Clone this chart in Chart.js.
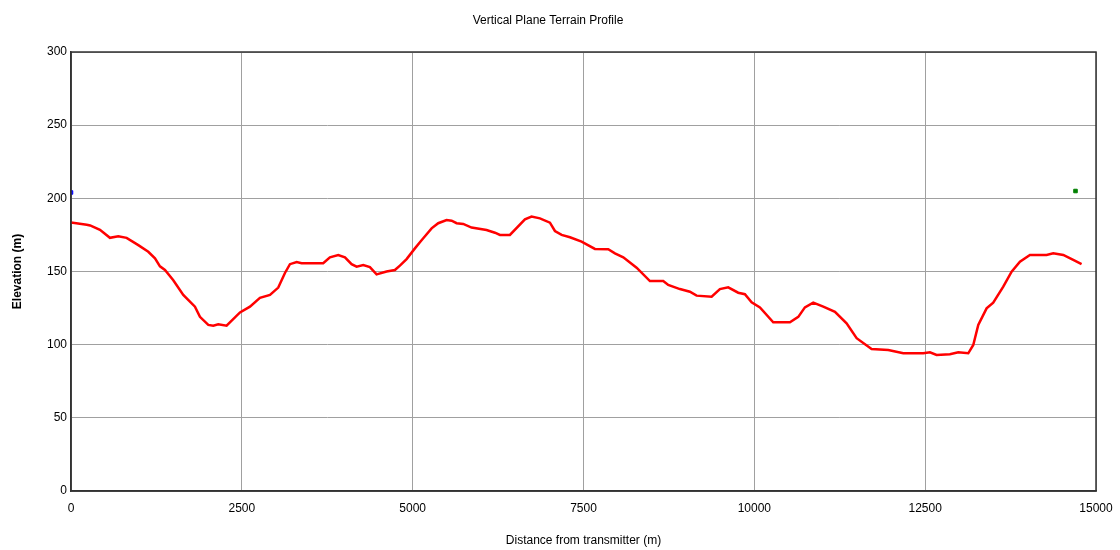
<!DOCTYPE html>
<html>
<head>
<meta charset="utf-8">
<script src="https://cdn.jsdelivr.net/npm/chart.js@4/dist/chart.umd.min.js"></script>
<style>
  html, body { margin: 0; padding: 0; background: #fff; }
  #wrap { width: 1120px; height: 550px; }
</style>
</head>
<body>
<div id="wrap"><canvas id="profile" width="1120" height="550"></canvas></div>
<script>
// Terrain profile
const distances = [0, 230, 280, 424, 570, 692, 814, 985, 1131, 1229, 1302, 1375, 1497, 1643, 1814, 1887,
  2009, 2082, 2155, 2277, 2473, 2619, 2765, 2912, 3033, 3131, 3204, 3302, 3375, 3691, 3789, 3911,
  4009, 4106, 4180, 4277, 4374, 4472, 4618, 4740, 4813, 4911, 5033, 5106, 5155, 5277, 5374, 5496,
  5570, 5643, 5740, 5862, 6081, 6204, 6277, 6423, 6643, 6740, 6862, 7009, 7082, 7180, 7302, 7472,
  7667, 7862, 7960, 8082, 8277, 8472, 8667, 8740, 8911, 9057, 9155, 9375, 9496, 9618, 9764, 9862,
  9960, 10082, 10277, 10521, 10643, 10740, 10862, 11009, 11180, 11350, 11497, 11716, 11960, 12180,
  12472, 12570, 12667, 12862, 12984, 13131, 13204, 13277, 13399, 13496, 13643, 13765, 13887, 14033,
  14277, 14374, 14521, 14667, 14789];
const elevations = [183.5, 182, 181.5, 178.5, 173, 174, 173, 168, 163.5, 159, 153.5, 151, 144, 134, 126, 119,
  113.5, 113, 114, 113, 122, 126, 132, 134, 139, 149, 155, 156.5, 155.6, 155.6, 159.7, 161.3,
  159.7, 155, 153.3, 154.4, 153, 148, 150, 151, 154, 158.5, 165.8, 170, 172.7, 179.5, 183, 185.2,
  184.7, 183, 182.5, 180, 178.4, 176.5, 175, 175, 185.6, 187.5, 186.3, 183.4, 177.7, 175, 173.4, 170.4,
  165.4, 165.2, 162.4, 159.7, 152.6, 143.5, 143.5, 140.8, 138, 136.2, 133.5, 132.8, 138, 139.2, 135.5, 134.5,
  129, 125.5, 115.3, 115.3, 119, 125.5, 128.7, 126, 122.5, 114.6, 104.4, 97, 96.4, 94.1,
  94.1, 94.8, 93, 93.4, 94.8, 94.1, 99.8, 113.4, 124.8, 128.7, 139.6, 149.9, 156.7, 161.3,
  161.3, 162.4, 161.3, 157.9, 155];

// antenna positions
const txPoint = [{ x: 0, y: 204 }];
const rxPoint = [{ x: 14700, y: 205 }];

const terrain = distances.map((d, i) => ({ x: d, y: elevations[i] }));

const FONT = "'Liberation Sans', Arial, sans-serif";

// dark frame round the plot area
const framePlugin = {
    id: 'frame',
    afterDatasetsDraw(chart) {
        const { ctx, chartArea: a } = chart;
        ctx.save();
        ctx.strokeStyle = '#333';
        ctx.lineWidth = 1.5;
        ctx.strokeRect(a.left, a.top, a.right - a.left, a.bottom - a.top);
        ctx.restore();
    }
};

new Chart(document.getElementById('profile').getContext('2d'), {
    type: 'line',
    data: {
        datasets: [
            {
                label: 'Terrain',
                data: terrain,
                borderColor: '#ff0000',
                borderWidth: 2.5,
                pointRadius: 0,
                tension: 0,
                fill: false
            },
            {
                label: 'Transmitter',
                data: txPoint,
                showLine: false,
                pointStyle: 'rect',
                pointRadius: 2.5,
                backgroundColor: '#0000ff',
                borderColor: '#0000ff'
            },
            {
                label: 'Receiver',
                data: rxPoint,
                showLine: false,
                pointStyle: 'rect',
                pointRadius: 2.5,
                backgroundColor: '#008000',
                borderColor: '#008000'
            }
        ]
    },
    options: {
        responsive: false,
        animation: false,
        layout: { padding: { top: 0, right: 24, bottom: 0, left: 0 } },
        plugins: {
            legend: { display: false },
            tooltip: { enabled: false },
            title: {
                display: true,
                text: 'Vertical Plane Terrain Profile',
                color: '#000',
                font: { family: FONT, size: 12, weight: 'normal' },
                padding: { top: 13, bottom: 24.6 }
            }
        },
        scales: {
            x: {
                type: 'linear',
                min: 0,
                max: 15000,
                ticks: {
                    stepSize: 2500, color: '#000', font: { family: FONT, size: 12 }, padding: 10, maxRotation: 0,
                    callback: (v) => String(v)
                },
                grid: { color: '#a0a0a0', lineWidth: 1, drawTicks: false },
                border: { color: '#333', width: 1.5 },
                title: {
                    display: true,
                    text: 'Distance from transmitter (m)',
                    color: '#000',
                    font: { family: FONT, size: 12 },
                    padding: { top: 0, bottom: 2 }
                },
                afterFit(scale) {
                    scale.height = 59;
                    scale.paddingRight = 0;
                    scale.paddingLeft = 0;
                }
            },
            y: {
                min: 0,
                max: 300,
                ticks: { stepSize: 50, color: '#000', font: { family: FONT, size: 12 }, padding: 4 },
                grid: { color: '#a0a0a0', lineWidth: 1, drawTicks: false },
                border: { color: '#333', width: 1.5 },
                title: {
                    display: true,
                    text: 'Elevation (m)',
                    color: '#000',
                    font: { family: FONT, size: 12, weight: 'bold' },
                    padding: { top: 10, bottom: 0 }
                },
                afterFit(scale) { scale.width = 71; }
            }
        }
    },
    plugins: [framePlugin]
});
</script>
</body>
</html>
